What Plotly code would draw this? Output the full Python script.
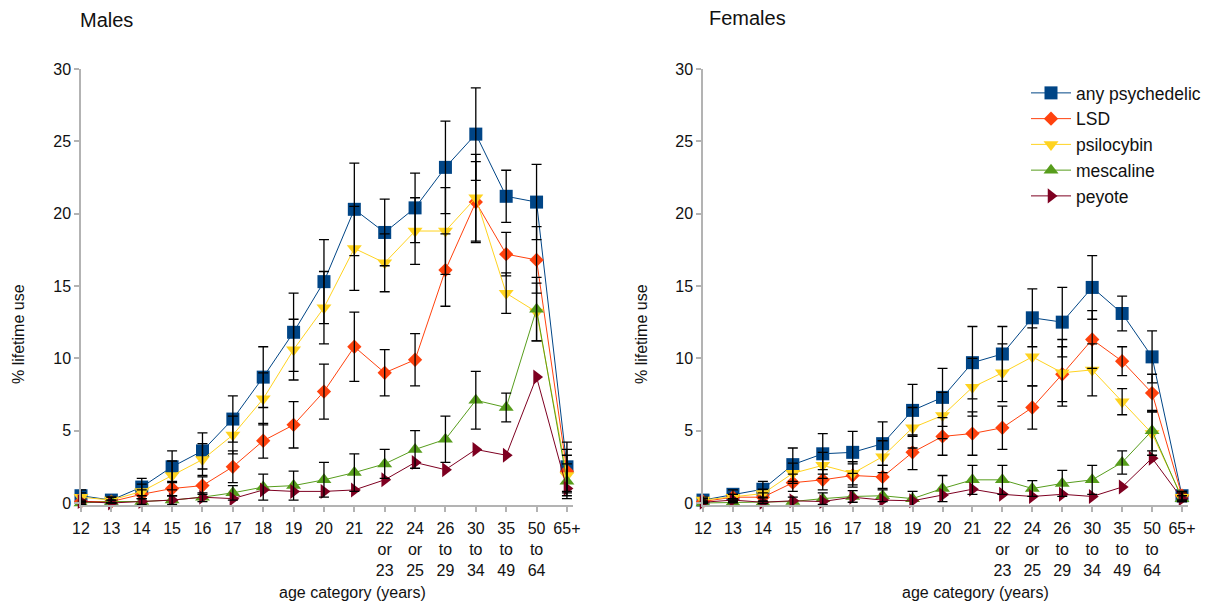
import plotly.graph_objects as go

W, H = 1217, 605
OFF = 8  # page body margin offset

categories = ["12", "13", "14", "15", "16", "17", "18", "19", "20", "21",
              "22<br>or<br>23", "24<br>or<br>25", "26<br>to<br>29", "30<br>to<br>34",
              "35<br>to<br>49", "50<br>to<br>64", "65+"]
series_names = ["any psychedelic", "LSD", "psilocybin", "mescaline", "peyote"]

# Males
m_any = [0.5, 0.2, 1.1, 2.5, 3.6, 5.8, 8.7, 11.8, 15.3, 20.3, 18.7, 20.4, 23.2, 25.5, 21.2, 20.8, 2.5]
m_any_err = [0.4, 0.2, 0.6, 1.1, 1.25, 1.6, 2.1, 2.7, 2.9, 3.2, 2.3, 2.4, 3.2, 3.2, 1.8, 2.6, 1.7]
m_lsd = [0.1, 0.1, 0.6, 1.0, 1.2, 2.5, 4.3, 5.4, 7.7, 10.8, 9.0, 9.9, 16.1, 20.8, 17.2, 16.8, 2.2]
m_lsd_err = [0.1, 0.1, 0.3, 0.5, 0.6, 1.1, 1.2, 1.6, 1.9, 2.4, 1.6, 1.8, 2.5, 2.8, 1.5, 2.3, 1.5]
m_psi = [0.4, 0.2, 0.8, 1.9, 3.0, 4.7, 7.2, 10.6, 13.5, 17.6, 16.6, 18.8, 18.8, 21.1, 14.5, 13.2, 1.9]
m_psi_err = [0.3, 0.2, 0.5, 1.0, 1.1, 1.3, 1.8, 2.1, 2.5, 2.9, 2.0, 2.3, 3.0, 3.0, 1.4, 2.0, 1.4]
m_mes = [0.0, 0.1, 0.1, 0.2, 0.4, 0.7, 1.1, 1.2, 1.6, 2.1, 2.7, 3.7, 4.4, 7.1, 6.6, 13.4, 1.5]
m_mes_err = [0.1, 0.1, 0.2, 0.3, 0.3, 0.5, 0.9, 1.0, 1.2, 1.3, 1.0, 1.3, 1.6, 2.0, 1.0, 2.2, 1.2]
m_pey = [0.1, 0.0, 0.1, 0.2, 0.4, 0.3, 0.9, 0.8, 0.8, 0.9, 1.6, 2.8, 2.3, 3.7, 3.3, 8.7, 1.0]

# Females
f_any = [0.2, 0.6, 0.95, 2.65, 3.4, 3.5, 4.1, 6.4, 7.3, 9.7, 10.3, 12.8, 12.5, 14.9, 13.1, 10.1, 0.5]
f_any_err = [0.2, 0.3, 0.55, 1.15, 1.4, 1.45, 1.5, 1.8, 2.0, 2.5, 1.9, 2.0, 2.4, 2.2, 1.2, 1.8, 0.3]
f_lsd = [0.1, 0.4, 0.4, 1.4, 1.6, 1.9, 1.8, 3.5, 4.6, 4.8, 5.2, 6.6, 8.9, 11.3, 9.8, 7.6, 0.5]
f_lsd_err = [0.1, 0.2, 0.3, 0.6, 0.7, 0.8, 0.8, 1.2, 1.3, 1.5, 1.5, 1.5, 1.9, 2.0, 1.0, 1.3, 0.3]
f_psi = [0.2, 0.4, 0.65, 2.05, 2.6, 2.05, 3.2, 5.2, 6.05, 8.0, 9.0, 10.1, 9.0, 9.2, 7.0, 4.8, 0.4]
f_psi_err = [0.1, 0.2, 0.3, 0.7, 0.9, 0.8, 1.1, 1.4, 1.6, 2.0, 2.0, 2.0, 2.3, 1.8, 0.9, 1.5, 0.3]
f_mes = [0.0, 0.05, 0.05, 0.1, 0.3, 0.45, 0.5, 0.3, 1.0, 1.6, 1.6, 1.0, 1.35, 1.6, 2.8, 5.0, 0.3]
f_mes_err = [0.05, 0.05, 0.1, 0.3, 0.4, 0.4, 0.4, 0.5, 0.9, 1.0, 1.0, 0.55, 0.9, 1.0, 0.8, 1.4, 0.2]
f_pey = [0.05, 0.2, 0.05, 0.15, 0.1, 0.4, 0.2, 0.15, 0.55, 0.95, 0.6, 0.45, 0.6, 0.45, 1.1, 3.1, 0.3]

colors = ["#004586", "#ff420e", "#ffd320", "#579d1c", "#7e0021"]
symbols = ["square", "diamond", "triangle-down", "triangle-up", "triangle-right"]
msizes = [13, 11, 13, 13, 13]

FONT = "Liberation Sans, Arial, sans-serif"
xpos = list(range(len(categories)))


def fx(px):
    return (px - OFF) / W


def fy(py):
    return 1 - (py - OFF) / H


panels = [
    ("x", "y", [m_any, m_lsd, m_psi, m_mes, m_pey], [m_any_err, m_lsd_err, m_psi_err, m_mes_err, None]),
    ("x2", "y2", [f_any, f_lsd, f_psi, f_mes, f_pey], [f_any_err, f_lsd_err, f_psi_err, f_mes_err, None]),
]

fig = go.Figure()
for pi, (xa, ya, vals, errs) in enumerate(panels):
    for i, name in enumerate(series_names):
        fig.add_trace(go.Scatter(
            x=xpos, y=vals[i], name=name, xaxis=xa, yaxis=ya,
            mode="lines+markers",
            line=dict(color=colors[i], width=1.0),
            marker=dict(symbol=symbols[i], size=msizes[i], color=colors[i], line=dict(width=0)),
            showlegend=(pi == 1), cliponaxis=False, hoverinfo="skip",
        ))
for pi, (xa, ya, vals, errs) in enumerate(panels):
    for i, name in enumerate(series_names):
        if errs[i] is None:
            continue
        fig.add_trace(go.Scatter(
            x=xpos, y=vals[i], xaxis=xa, yaxis=ya, mode="markers",
            marker=dict(size=2, opacity=0),
            error_y=dict(type="data", array=errs[i], color="black", thickness=1.3, width=5),
            showlegend=False, cliponaxis=False, hoverinfo="skip",
        ))

ydom = [fy(505), fy(69)]
axis_common = dict(showline=True, linecolor="#b3b3b3", linewidth=1.5, showgrid=False, zeroline=False,
                   ticks="outside", ticklen=5, tickcolor="#b3b3b3", tickwidth=1.5, automargin=False,
                   tickfont=dict(family=FONT, size=16, color="#111"))
xcommon = dict(axis_common, tickmode="array", tickvals=xpos, ticktext=categories, range=[0, 16.2],
               ticklabelstandoff=3)
ycommon = dict(axis_common, range=[-0.14, 30], tickmode="array", tickvals=[0, 5, 10, 15, 20, 25, 30])

fig.update_layout(
    template="none",
    width=W, height=H, autosize=False,
    margin=dict(l=0, r=0, t=0, b=0, pad=0),
    paper_bgcolor="white", plot_bgcolor="white",
    font=dict(family=FONT, color="#111"),
    xaxis=dict(xcommon, domain=[fx(81), fx(573)], anchor="y"),
    yaxis=dict(ycommon, domain=ydom, anchor="x"),
    xaxis2=dict(xcommon, domain=[fx(703), fx(1188)], anchor="y2"),
    yaxis2=dict(ycommon, domain=ydom, anchor="x2"),
    legend=dict(x=fx(1026), y=fy(75), xanchor="left", yanchor="top",
                font=dict(family=FONT, size=17.5, color="#111"), bgcolor="rgba(0,0,0,0)",
                borderwidth=0, itemwidth=40, tracegroupgap=0),
    showlegend=True,
)


def ann(text, x, y, size, angle=0, xanchor="center"):
    fig.add_annotation(text=text, x=fx(x), y=fy(y), xref="paper", yref="paper",
                       showarrow=False, font=dict(family=FONT, size=size, color="#111"),
                       textangle=angle, xanchor=xanchor, yanchor="middle")


ann("Males", 78, 20, 20, xanchor="left")
ann("Females", 707, 18, 20, xanchor="left")
ann("age category (years)", 352, 592, 16)
ann("age category (years)", 975, 592, 16)
ann("% lifetime use", 18, 334, 16, angle=-90)
ann("% lifetime use", 641, 334, 16, angle=-90)

fig.write_html("out.html")
